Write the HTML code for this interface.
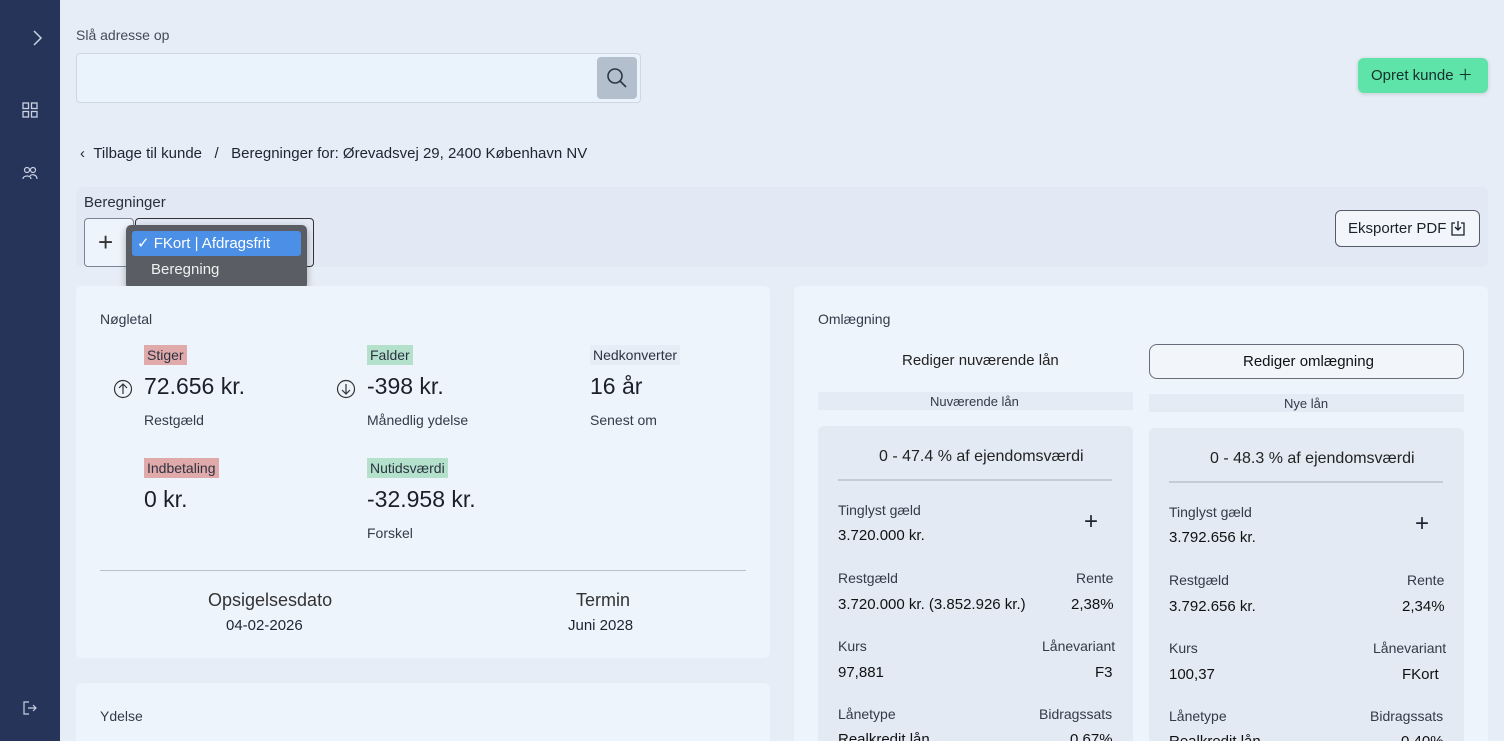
<!DOCTYPE html>
<html style="width:1504px;height:741px;overflow:hidden"><head><meta charset="utf-8"><style>
*{box-sizing:border-box;margin:0;padding:0}
body{width:1504px;height:741px;overflow:hidden;background:#e6edf7;font-family:"Liberation Sans",sans-serif;color:#1e2433;position:relative}
.a{position:absolute}
.t{position:absolute;white-space:nowrap;line-height:1}
.s{font-size:14px;color:#333a48}
.m{font-size:15px;color:#1e2433}
.b{font-size:23px;color:#1a1f2b}
.tag{position:absolute;font-size:14px;padding:3px 3px;line-height:1;color:#2c3340}
.r{background:#e0a9aa}.g{background:#b3e1cc}
.card{position:absolute;background:#eef4fc;border-radius:6px}
.in{position:absolute;background:#e3eaf4;border-radius:6px}
</style></head><body>
<div class="a" style="left:0;top:0;width:60px;height:741px;background:#253458"></div>
<svg class="a" style="left:32px;top:29px" width="12" height="18"><path d="M2 2l7 7-7 7" fill="none" stroke="#c9d1e3" stroke-width="1.5"/></svg>
<svg class="a" style="left:22px;top:102px" width="16" height="16"><g fill="none" stroke="#c9d1e3" stroke-width="1.3"><rect x="1" y="1" width="5.5" height="5.5"/><rect x="9.5" y="1" width="5.5" height="5.5"/><rect x="1" y="9.5" width="5.5" height="5.5"/><rect x="9.5" y="9.5" width="5.5" height="5.5"/></g></svg>
<svg class="a" style="left:22px;top:166px" width="16" height="14"><g fill="none" stroke="#c9d1e3" stroke-width="1.2"><circle cx="5" cy="4" r="2.5"/><circle cx="11" cy="4" r="2.5"/><path d="M1 13c0-4 8-4 8 0M8 10c1-2 7-2 7 3"/></g></svg>
<svg class="a" style="left:23px;top:701px" width="14" height="14"><g fill="none" stroke="#c9d1e3" stroke-width="1.2"><path d="M6 1H1v12h5M5 7h8M10 4l3 3-3 3"/></g></svg>

<div class="t s" style="left:76px;top:28px;color:#444b58">Slå adresse op</div>
<div class="a" style="left:76px;top:53px;width:565px;height:50px;background:#eaf2fc;border:1px solid #cfd7e3;border-radius:4px"></div>
<div class="a" style="left:597px;top:57px;width:40px;height:42px;background:#b3bfcd;border-radius:4px"></div>
<svg class="a" style="left:606px;top:67px" width="22" height="22"><circle cx="9" cy="9" r="7" fill="none" stroke="#2d3545" stroke-width="1.6"/><path d="M14 14l6 6" stroke="#2d3545" stroke-width="1.6"/></svg>
<div class="a" style="left:1358px;top:58px;width:130px;height:35px;background:#5ee3a8;border-radius:6px;box-shadow:0 1px 4px rgba(0,0,0,.15)"></div>
<div class="t" style="left:1371px;top:68px;font-size:15px;color:#16302a">Opret kunde ＋</div>

<div class="t m" style="left:80px;top:146px">‹&nbsp;&nbsp;Tilbage til kunde&nbsp;&nbsp;&nbsp;/&nbsp;&nbsp;&nbsp;Beregninger for: Ørevadsvej 29, 2400 København NV</div>

<div class="a" style="left:76px;top:187px;width:1412px;height:80px;background:#e2e9f4;border-radius:6px"></div>
<div class="t m" style="left:84px;top:195px;color:#2a303c">Beregninger</div>
<div class="a" style="left:84px;top:218px;width:50px;height:49px;border:1px solid #7c8595;border-radius:4px;background:#eef4fc"></div>
<div class="t" style="left:98px;top:229px;font-size:26px;font-weight:300;color:#333">+</div>
<div class="a" style="left:135px;top:218px;width:179px;height:49px;border:1px solid #333;border-radius:4px"></div>
<div class="a" style="left:126px;top:225px;width:181px;height:64px;background:#5a5e64;border-radius:5px;box-shadow:0 3px 8px rgba(0,0,0,.3)"></div>
<div class="a" style="left:132px;top:231px;width:169px;height:25px;background:#4b8fe6;border-radius:3px"></div>
<div class="t" style="left:137px;top:236px;font-size:15px;color:#fff">✓ FKort | Afdragsfrit</div>
<div class="t" style="left:151px;top:262px;font-size:15px;color:#f0f0f0">Beregning</div>
<div class="a" style="left:1335px;top:210px;width:145px;height:37px;border:1px solid #555c68;border-radius:6px;background:#f2f6fb"></div>
<div class="t" style="left:1348px;top:221px;font-size:15px;color:#1a1f2b">Eksporter PDF</div>
<svg class="a" style="left:1451px;top:220px" width="14" height="16"><g fill="none" stroke="#1a1f2b" stroke-width="1.3"><path d="M4 3H1v12h12V3h-3M7 1v9M4 7l3 3 3-3"/></g></svg>

<div class="card" style="left:76px;top:286px;width:694px;height:372px"></div>
<div class="t s" style="left:100px;top:312px">Nøgletal</div>
<div class="tag r" style="left:144px;top:345px">Stiger</div>
<div class="tag g" style="left:367px;top:345px">Falder</div>
<div class="tag" style="left:590px;top:345px;background:#e6edf7">Nedkonverter</div>
<svg class="a" style="left:113px;top:379px" width="20" height="20"><circle cx="10" cy="10" r="8.5" fill="none" stroke="#333" stroke-width="1.2"/><path d="M10 15V5M6 9l4-4 4 4" fill="none" stroke="#333" stroke-width="1.2"/></svg>
<svg class="a" style="left:336px;top:379px" width="20" height="20"><circle cx="10" cy="10" r="8.5" fill="none" stroke="#333" stroke-width="1.2"/><path d="M10 5v10M6 11l4 4 4-4" fill="none" stroke="#333" stroke-width="1.2"/></svg>
<div class="t b" style="left:144px;top:375px">72.656 kr.</div>
<div class="t b" style="left:367px;top:375px">-398 kr.</div>
<div class="t b" style="left:590px;top:375px">16 år</div>
<div class="t s" style="left:144px;top:413px">Restgæld</div>
<div class="t s" style="left:367px;top:413px">Månedlig ydelse</div>
<div class="t s" style="left:590px;top:413px">Senest om</div>
<div class="tag r" style="left:144px;top:458px">Indbetaling</div>
<div class="tag g" style="left:367px;top:458px">Nutidsværdi</div>
<div class="t b" style="left:144px;top:488px">0 kr.</div>
<div class="t b" style="left:367px;top:488px">-32.958 kr.</div>
<div class="t s" style="left:367px;top:526px">Forskel</div>
<div class="a" style="left:100px;top:570px;width:646px;height:1px;background:#b9c1cc"></div>
<div class="t" style="left:208px;top:591px;font-size:18px;color:#333">Opsigelsesdato</div>
<div class="t m" style="left:226px;top:618px">04-02-2026</div>
<div class="t" style="left:576px;top:591px;font-size:18px;color:#333">Termin</div>
<div class="t m" style="left:568px;top:618px">Juni 2028</div>

<div class="card" style="left:76px;top:683px;width:694px;height:58px;border-radius:6px 6px 0 0"></div>
<div class="t s" style="left:100px;top:709px">Ydelse</div>

<div class="card" style="left:794px;top:286px;width:694px;height:455px;border-radius:6px 6px 0 0"></div>
<div class="t s" style="left:818px;top:312px">Omlægning</div>
<div class="t s" style="left:902px;top:353px;font-size:15px;color:#222">Rediger nuværende lån</div>
<div class="a" style="left:1149px;top:344px;width:315px;height:35px;border:1px solid #666d78;border-radius:8px;background:#f2f6fb"></div>
<div class="t" style="left:1243px;top:354px;font-size:15px;color:#111">Rediger omlægning</div>
<div class="a" style="left:818px;top:392px;width:315px;height:18px;background:#e4ebf5"></div>
<div class="t s" style="left:930px;top:395px;font-size:13px">Nuværende lån</div>
<div class="a" style="left:1149px;top:394px;width:315px;height:18px;background:#e4ebf5"></div>
<div class="t s" style="left:1284px;top:397px;font-size:13px">Nye lån</div>

<div class="in" style="left:818px;top:426px;width:315px;height:315px;border-radius:6px 6px 0 0"></div>
<div class="in" style="left:1149px;top:428px;width:315px;height:313px;border-radius:6px 6px 0 0"></div>
<div class="t" style="left:879px;top:449px;font-size:16px;color:#222">0 - 47.4 % af ejendomsværdi</div>
<div class="t" style="left:1210px;top:451px;font-size:16px;color:#222">0 - 48.3 % af ejendomsværdi</div>
<div class="a" style="left:838px;top:479px;width:274px;height:2px;background:#c6ccd5"></div>
<div class="a" style="left:1169px;top:481px;width:274px;height:2px;background:#c6ccd5"></div>

<div class="t s" style="left:838px;top:503px">Tinglyst gæld</div>
<div class="t s" style="left:838px;top:528px;color:#111;font-size:15px">3.720.000 kr.</div>
<div class="t" style="left:1084px;top:510px;font-size:24px;font-weight:300">+</div>
<div class="t s" style="left:838px;top:571px">Restgæld</div>
<div class="t s" style="left:1076px;top:571px">Rente</div>
<div class="t s" style="left:838px;top:597px;color:#111;font-size:15px">3.720.000 kr. (3.852.926 kr.)</div>
<div class="t s" style="left:1071px;top:597px;color:#111;font-size:15px">2,38%</div>
<div class="t s" style="left:838px;top:639px">Kurs</div>
<div class="t s" style="left:1042px;top:639px">Lånevariant</div>
<div class="t s" style="left:838px;top:665px;color:#111;font-size:15px">97,881</div>
<div class="t s" style="left:1095px;top:665px;color:#111;font-size:15px">F3</div>
<div class="t s" style="left:838px;top:707px">Lånetype</div>
<div class="t s" style="left:1039px;top:707px">Bidragssats</div>
<div class="t s" style="left:838px;top:732px;color:#111;font-size:15px">Realkredit lån</div>
<div class="t s" style="left:1070px;top:732px;color:#111;font-size:15px">0,67%</div>

<div class="t s" style="left:1169px;top:505px">Tinglyst gæld</div>
<div class="t s" style="left:1169px;top:530px;color:#111;font-size:15px">3.792.656 kr.</div>
<div class="t" style="left:1415px;top:512px;font-size:24px;font-weight:300">+</div>
<div class="t s" style="left:1169px;top:573px">Restgæld</div>
<div class="t s" style="left:1407px;top:573px">Rente</div>
<div class="t s" style="left:1169px;top:599px;color:#111;font-size:15px">3.792.656 kr.</div>
<div class="t s" style="left:1402px;top:599px;color:#111;font-size:15px">2,34%</div>
<div class="t s" style="left:1169px;top:641px">Kurs</div>
<div class="t s" style="left:1373px;top:641px">Lånevariant</div>
<div class="t s" style="left:1169px;top:667px;color:#111;font-size:15px">100,37</div>
<div class="t s" style="left:1402px;top:667px;color:#111;font-size:15px">FKort</div>
<div class="t s" style="left:1169px;top:709px">Lånetype</div>
<div class="t s" style="left:1370px;top:709px">Bidragssats</div>
<div class="t s" style="left:1169px;top:734px;color:#111;font-size:15px">Realkredit lån</div>
<div class="t s" style="left:1401px;top:734px;color:#111;font-size:15px">0,40%</div>
</body></html>
